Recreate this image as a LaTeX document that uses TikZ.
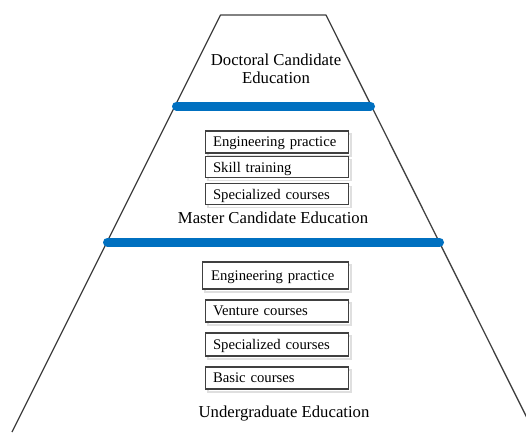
\documentclass[tikz,border=0pt]{standalone}
\usepackage{fontspec}
\setmainfont{Liberation Serif}
\definecolor{barblue}{HTML}{0070C0}
\definecolor{edgegray}{HTML}{404040}
\begin{document}
\begin{tikzpicture}[x=1pt,y=-1pt,
  edge/.style={draw=edgegray,line width=1.3pt},
  bar/.style={draw=barblue,line width=9pt,line cap=round},
  lvl/.style={font=\fontsize{16.7pt}{18pt}\selectfont,align=center,inner sep=0pt},
  itembox/.style={draw=edgegray,line width=1.1pt,fill=white,font=\fontsize{14.7pt}{16pt}\selectfont,
    inner xsep=7.5pt,inner ysep=0pt,text width=128pt,align=left,minimum height=22pt,anchor=west,
    text depth=0pt,
    append after command={}},
  shadowbox/.style={draw=gray!25,line width=1.5pt}
]
\useasboundingbox (0,0) rectangle (526,432);
\clip (0,0) rectangle (526,432);
\fill[white] (0,0) rectangle (526,432);
% pyramid outline
\coordinate (tl) at (220.5,15);
\coordinate (tr) at (326,15);
\coordinate (bl) at (12,432);
\coordinate (br) at (534,432);
\draw[edge,line join=round] (bl) -- (tl) -- (tr) -- (br);
% blue separators
\draw[bar] (176.5,106) -- (370.5,106);
\draw[bar] (107.5,242) -- (439.5,242);
% level labels
\node[lvl] (doc) at (276,69) {Doctoral Candidate\\Education};
\node[lvl] (mas) at (273,218) {Master Candidate Education};
\node[lvl] (und) at (284,413) {Undergraduate Education};
% master boxes shadows
\foreach \y/\h in {142/22,167/21,194/21}{
  \draw[shadowbox] (208,\y-\h/2+3) rectangle (351,\y+\h/2+3);
}
\node[itembox,minimum height=22pt] (m1) at (205,142) {Engineering practice};
\node[itembox,minimum height=21pt] (m2) at (205,167) {Skill training};
\node[itembox,minimum height=21pt] (m3) at (205,194) {Specialized courses};
% undergraduate boxes shadows
\draw[shadowbox] (205,265) rectangle (351,292);
\foreach \y/\h in {311/22,344.5/23,378/22}{
  \draw[shadowbox] (208,\y-\h/2+3) rectangle (351,\y+\h/2+3);
}
\node[itembox,minimum height=27pt,text width=129pt,inner xsep=8.5pt] (u1) at (202,275.5) {Engineering practice};
\node[itembox,minimum height=22pt] (u2) at (205,311) {Venture courses};
\node[itembox,minimum height=23pt] (u3) at (205,344.5) {Specialized courses};
\node[itembox,minimum height=22pt] (u4) at (205,378) {Basic courses};
\end{tikzpicture}
\end{document}
